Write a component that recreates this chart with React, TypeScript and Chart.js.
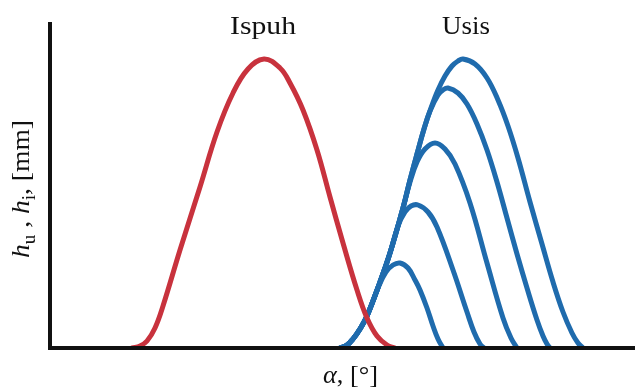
import React, { useEffect, useRef } from "react";
import { Chart, registerables } from "chart.js";

Chart.register(...registerables);

// crank angle (arbitrary units along the axis) and valve lift (arbitrary units)
const ALPHA_MAX = 585;
const LIFT_MAX = 326;

const exhaustAlpha = [82, 90, 97, 105, 113, 130, 150, 167, 183, 198, 214, 230, 240, 253, 267, 280, 293, 307, 317, 327, 337, 345];
const exhaustLift = [0, 2, 7, 20, 42, 98, 161, 216, 255, 279, 289, 280, 265, 238, 198, 151, 105, 58, 30, 12, 3, 0];

const intake1Alpha = [290, 297, 303, 310, 317, 328, 336, 343, 350, 358, 365, 370, 377, 383, 388, 393];
const intake1Lift = [0, 3, 9, 19, 32, 60, 76, 83, 85, 80, 68, 58, 40, 22, 9, 0];

const intake2Alpha = [290, 297, 303, 310, 317, 330, 340, 348, 355, 361, 368, 378, 387, 403, 417, 424, 430, 434];
const intake2Lift = [0, 3, 9, 19, 32, 66, 95, 122, 136, 142, 143, 136, 121, 78, 36, 16, 4, 0];

const intake3Alpha = [290, 297, 303, 310, 317, 330, 340, 353, 360, 367, 375, 385, 395, 405, 420, 437, 453, 461, 467];
const intake3Lift = [0, 3, 9, 19, 32, 66, 95, 140, 166, 186, 199, 205, 199, 184, 145, 85, 30, 10, 0];

const intake4Alpha = [290, 297, 303, 310, 317, 330, 340, 353, 360, 367, 374, 380, 388, 393, 398, 408, 417, 427, 437, 447, 457, 467, 477, 487, 493, 497, 500];
const intake4Lift = [0, 3, 9, 19, 32, 66, 95, 140, 168, 194, 219, 237, 253, 258, 260, 255, 244, 224, 198, 166, 130, 94, 60, 28, 12, 4, 0];

const intake5Alpha = [290, 297, 303, 310, 317, 330, 340, 353, 360, 367, 374, 381, 388, 395, 402, 408, 413, 425, 437, 448, 458, 468, 480, 492, 503, 513, 522, 528, 533];
const intake5Lift = [0, 3, 9, 19, 32, 66, 95, 140, 168, 194, 219, 240, 258, 272, 282, 287, 289, 284, 270, 248, 222, 190, 146, 104, 66, 36, 15, 5, 0];

const RED = "#C8323D";
const BLUE = "#1F6BAD";
const INK = "#111111";
const FONT = '"Liberation Serif", "Times New Roman", serif';
const TEXT_SIZE = 26;

type Run = { t: string; italic?: boolean; sub?: boolean };

function fontFor(r: Run, size: number) {
  const s = r.sub ? Math.round(size * 0.68) : size;
  return `${r.italic ? "italic " : ""}${s}px ${FONT}`;
}

function measureRuns(ctx: CanvasRenderingContext2D, runs: Run[], size: number) {
  let w = 0;
  for (const r of runs) {
    ctx.font = fontFor(r, size);
    w += ctx.measureText(r.t).width;
  }
  return w;
}

// draws runs centred on the local origin, baseline at y=0, fitted to targetWidth
function drawRuns(ctx: CanvasRenderingContext2D, runs: Run[], size: number, targetWidth: number) {
  const w = measureRuns(ctx, runs, size);
  const s = targetWidth / w;
  ctx.save();
  ctx.scale(s, 1);
  ctx.fillStyle = INK;
  ctx.textBaseline = "alphabetic";
  ctx.textAlign = "left";
  let cx = -w / 2;
  for (const r of runs) {
    ctx.font = fontFor(r, size);
    ctx.fillText(r.t, cx, r.sub ? size * 0.22 : 0);
    cx += ctx.measureText(r.t).width;
  }
  ctx.restore();
}

const topLabels: { text: string; alpha: number; width: number }[] = [
  { text: "Ispuh", alpha: 213, width: 66 },
  { text: "Usis", alpha: 416, width: 48 },
];

const yLabel: Run[] = [
  { t: "h", italic: true },
  { t: "u", sub: true },
  { t: " , " },
  { t: "h", italic: true },
  { t: "i", sub: true },
  { t: ", [mm]" },
];
const xLabel: Run[] = [{ t: "α", italic: true }, { t: ", [°]" }];

const decorPlugin = {
  id: "decor",
  afterDatasetsDraw(chart: any) {
    const { ctx, chartArea, scales } = chart;
    const x0 = scales.x.getPixelForValue(0);
    const y0 = scales.y.getPixelForValue(0);
    ctx.save();
    ctx.strokeStyle = INK;
    ctx.lineWidth = 4;
    ctx.lineCap = "butt";
    ctx.beginPath();
    ctx.moveTo(x0, chartArea.top);
    ctx.lineTo(x0, y0 + 2);
    ctx.stroke();
    ctx.beginPath();
    ctx.moveTo(x0 - 2, y0);
    ctx.lineTo(chart.width, y0);
    ctx.stroke();

    // series labels
    for (const l of topLabels) {
      ctx.save();
      ctx.translate(scales.x.getPixelForValue(l.alpha), 34);
      drawRuns(ctx, [{ t: l.text }], TEXT_SIZE, l.width);
      ctx.restore();
    }

    // y axis title
    ctx.save();
    ctx.translate(29, (chartArea.top + y0) / 2 + 4);
    ctx.rotate(-Math.PI / 2);
    drawRuns(ctx, yLabel, TEXT_SIZE, 138);
    ctx.restore();

    // x axis title
    ctx.save();
    ctx.translate((x0 + chart.width) / 2 + 8, 383);
    drawRuns(ctx, xLabel, TEXT_SIZE, 55);
    ctx.restore();

    ctx.restore();
  },
};

function pts(xs: number[], ys: number[]) {
  return xs.map((x, i) => ({ x, y: ys[i] }));
}

export default function App() {
  const ref = useRef<HTMLCanvasElement | null>(null);

  useEffect(() => {
    if (!ref.current) return;
    const line = (label: string, data: { x: number; y: number }[], color: string) => ({
      label,
      data,
      borderColor: color,
      backgroundColor: color,
      borderWidth: 5,
      pointRadius: 0,
      fill: false,
      tension: 0.4,
      borderCapStyle: "round" as const,
      borderJoinStyle: "round" as const,
    });
    const chart = new Chart(ref.current, {
      type: "line",
      data: {
        datasets: [
          line("Ispuh", pts(exhaustAlpha, exhaustLift), RED),
          line("Usis 1", pts(intake1Alpha, intake1Lift), BLUE),
          line("Usis 2", pts(intake2Alpha, intake2Lift), BLUE),
          line("Usis 3", pts(intake3Alpha, intake3Lift), BLUE),
          line("Usis 4", pts(intake4Alpha, intake4Lift), BLUE),
          line("Usis 5", pts(intake5Alpha, intake5Lift), BLUE),
        ],
      },
      options: {
        animation: false,
        responsive: false,
        maintainAspectRatio: false,
        devicePixelRatio: 1,
        layout: { padding: { left: 50, right: 0, top: 22, bottom: 39 } },
        plugins: { legend: { display: false }, tooltip: { enabled: false }, title: { display: false } },
        scales: {
          x: { type: "linear", min: 0, max: ALPHA_MAX, display: false },
          y: { type: "linear", min: 0, max: LIFT_MAX, display: false },
        },
      },
      plugins: [decorPlugin],
    });
    return () => chart.destroy();
  }, []);

  return (
    <div style={{ position: "absolute", left: 0, top: 0, width: 635, height: 387, background: "#fff" }}>
      <canvas ref={ref} width={635} height={387} style={{ display: "block" }} />
    </div>
  );
}
